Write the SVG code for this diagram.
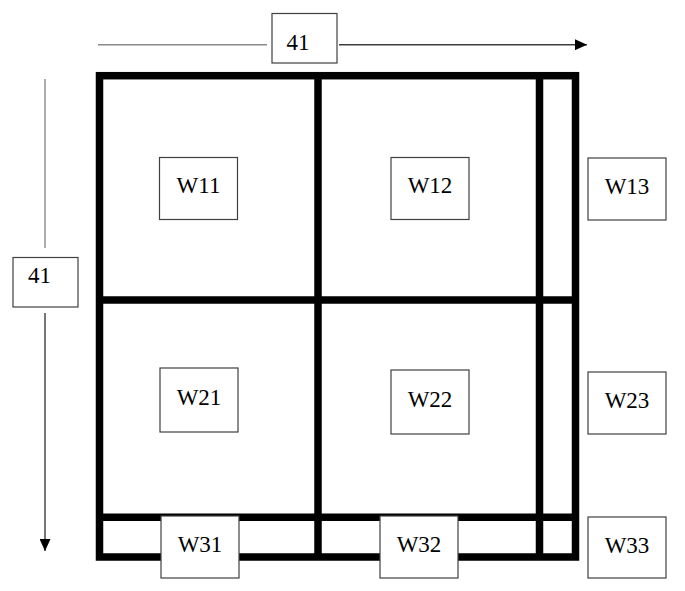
<svg xmlns="http://www.w3.org/2000/svg" width="685" height="591" viewBox="0 0 685 591">
  <style>
    .frame { fill: none; stroke: #000; stroke-width: 7.5; }
    .box { fill: #fff; stroke: #404040; stroke-width: 1.2; }
    .lbl { font-family: "Liberation Serif", "Times New Roman", serif; font-size: 23px; fill: #000; text-anchor: middle; }
    .dimA { stroke: #8a8a8a; stroke-width: 1.4; fill: none; }
    .dimB { stroke: #3c3c3c; stroke-width: 1.4; fill: none; }
  </style>
  <defs>
    <marker id="arrow" viewBox="0 0 12 11" refX="12" refY="5.5" markerWidth="12" markerHeight="11" markerUnits="userSpaceOnUse" orient="auto">
      <path d="M0,0 L12,5.5 L0,11 Z" fill="#000"/>
    </marker>
  </defs>
  <rect width="685" height="591" fill="#fff"/>

  <g id="grid">
    <rect class="frame" x="99.5" y="75.7" width="476" height="481.3"/>
    <line class="frame" x1="318" y1="75.7" x2="318" y2="557"/>
    <line class="frame" x1="539.5" y1="75.7" x2="539.5" y2="557"/>
    <line class="frame" x1="99.5" y1="300" x2="575.5" y2="300"/>
    <line class="frame" x1="99.5" y1="517.3" x2="575.5" y2="517.3"/>
  </g>

  <g id="connectors">
    <line class="dimA" x1="98" y1="44.7" x2="267" y2="44.7"/>
    <line class="dimB" x1="339" y1="44.7" x2="587" y2="44.7" marker-end="url(#arrow)"/>
    <line class="dimA" x1="45" y1="79" x2="45" y2="248"/>
    <line class="dimB" x1="45" y1="313" x2="45" y2="551" marker-end="url(#arrow)"/>
  </g>

  <g id="dim-top">
    <rect class="box" x="272" y="13.5" width="65" height="49.5"/>
    <text class="lbl" x="298" y="49.5">41</text>
  </g>
  <g id="dim-left">
    <rect class="box" x="13" y="257.5" width="65" height="49.5"/>
    <text class="lbl" x="39.5" y="282.5">41</text>
  </g>

  <g id="W11">
    <rect class="box" x="159.5" y="157.5" width="78" height="62"/>
    <text class="lbl" x="198.5" y="193">W11</text>
  </g>
  <g id="W12">
    <rect class="box" x="391" y="157.5" width="78" height="62"/>
    <text class="lbl" x="430" y="193">W12</text>
  </g>
  <g id="W13">
    <rect class="box" x="588" y="158" width="78" height="62"/>
    <text class="lbl" x="627" y="194">W13</text>
  </g>
  <g id="W21">
    <rect class="box" x="160" y="368" width="78" height="64"/>
    <text class="lbl" x="199" y="405">W21</text>
  </g>
  <g id="W22">
    <rect class="box" x="391" y="370" width="78" height="64"/>
    <text class="lbl" x="430" y="407">W22</text>
  </g>
  <g id="W23">
    <rect class="box" x="588" y="372" width="78" height="62"/>
    <text class="lbl" x="627" y="408">W23</text>
  </g>
  <g id="W31">
    <rect class="box" x="161" y="516" width="78" height="62"/>
    <text class="lbl" x="200" y="552">W31</text>
  </g>
  <g id="W32">
    <rect class="box" x="380" y="516" width="78" height="62"/>
    <text class="lbl" x="419" y="552">W32</text>
  </g>
  <g id="W33">
    <rect class="box" x="588" y="517" width="78" height="61"/>
    <text class="lbl" x="627" y="553">W33</text>
  </g>
</svg>
